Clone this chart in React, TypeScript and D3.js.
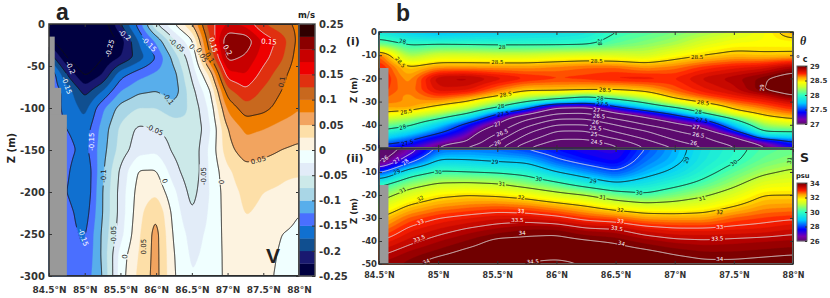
import React, { useEffect, useRef } from 'react';
import * as d3 from 'd3';

// shared longitude columns of all three sections
const lons = [84.5, 84.75, 85, 85.25, 85.5, 85.75, 86, 86.25, 86.5, 86.75, 87, 87.25, 87.5, 87.75, 88];
const lonTicks = [84.5, 85, 85.5, 86, 86.5, 87, 87.5, 88];

// a: velocity, m/s
const vDepths = [0, -20, -40, -60, -80, -100, -125, -150, -175, -200, -225, -250, -275, -300];
const vRows = [
  [-.29, -.3, -.29, -.27, -.2, -.14, -.05, 0, .05, .14, .175, .165, .125, .105, .095],
  [-.24, -.29, -.3, -.29, -.24, -.175, -.12, -.055, -.005, .12, .225, .22, .17, .14, .09],
  [-.18, -.25, -.29, -.25, -.225, -.19, -.15, -.09, -.03, .095, .21, .195, .16, .13, .085],
  [-.12, -.2, -.255, -.225, -.16, -.135, -.12, -.11, -.045, .03, .165, .175, .14, .11, .08],
  [-.13, -.16, -.21, -.175, -.125, -.105, -.1, -.115, -.06, -.005, .115, .145, .12, .1, .08],
  [-.14, -.155, -.185, -.13, -.09, -.075, -.075, -.09, -.07, -.02, .08, .115, .108, .09, .076],
  [-.14, -.15, -.165, -.115, -.07, -.045, -.05, -.06, -.075, -.03, .05, .08, .075, .065, .06],
  [-.13, -.14, -.16, -.11, -.065, -.035, -.03, -.055, -.07, -.02, .04, .065, .06, .05, .045],
  [-.13, -.145, -.175, -.105, -.045, .002, .002, -.04, -.07, -.022, .02, .04, .035, .03, .03],
  [-.13, -.15, -.175, -.1, -.04, .01, .02, -.02, -.06, -.025, .015, .03, .025, .022, .012],
  [-.13, -.14, -.165, -.1, -.04, .015, .05, -.01, -.05, -.022, .012, .026, .022, .012, 0],
  [-.13, -.14, -.155, -.095, -.035, .02, .06, -.005, -.035, -.02, .01, .02, .018, 0, -.005],
  [-.12, -.135, -.15, -.095, -.015, .025, .06, 0, -.03, -.018, .008, .018, .012, -.004, -.008],
  [-.11, -.125, -.14, -.1, -.012, .03, .06, .002, -.025, -.012, .005, .015, .008, -.006, -.01],
];
const vBandColors = [
  '#000040', '#191970', '#104f90', '#1070d0', '#4a6fff', '#58aeeb', '#a9d6e6', '#cce9e9', '#e2ecf8', '#f0ffff',
  '#fdf3e0', '#fddfa8', '#f2a45f', '#ef7d00', '#c8681e', '#e03010', '#ee0000', '#c80000', '#8b0000', '#300000',
];
const vBlack = [-.25, -.2, -.15, -.1, -.05, 0, .05, .1];
const vWhite = [.15, .2];
const vTicks = [.25, .2, .15, .1, .05, 0, -.05, -.1, -.15, -.2, -.25];
const vDepthTicks = [0, -50, -100, -150, -200, -250, -300];
// land steps: lon edge, top depth
const vLandLon = [84.58, 84.67, 84.75];
const vLandTop = [-15, -76, -108];
// text, lon, depth, angle, colour
const vLabels: [string, number, number, number, string][] = [
  ['-0.25', 85.35, -29, -75, '#fff'], ['-0.2', 85.56, -13, 40, '#fff'], ['-0.15', 85.9, -24, 45, '#fff'],
  ['-0.05', 86.29, -25, 40, '#222'], ['0', 86.5, -27, 50, '#222'], ['0.05', 86.64, -37, 60, '#222'],
  ['0.1', 86.75, -40, 60, '#222'], ['0.15', 86.8, -25, 75, '#fff'], ['0.2', 87.0, -31, 60, '#fff'],
  ['0.15', 87.58, -21, 5, '#fff'], ['0.1', 87.76, -69, -80, '#222'], ['-0.2', 84.8, -52, 65, '#fff'],
  ['-0.15', 84.75, -73, 70, '#fff'], ['-0.1', 86.17, -89, 55, '#222'], ['-0.05', 85.98, -126, 25, '#222'],
  ['-0.15', 85.1, -140, -90, '#fff'], ['-0.15', 84.98, -254, 70, '#fff'], ['-0.1', 85.27, -181, -90, '#222'],
  ['-0.05', 85.4, -251, -90, '#222'], ['0', 85.56, -277, -85, '#222'], ['0.05', 85.82, -265, -90, '#222'],
  ['0', 86.12, -187, 70, '#222'], ['-0.05', 86.66, -181, -90, '#222'], ['0', 86.91, -188, -90, '#222'],
  ['0.05', 87.43, -162, -15, '#222'],
];

// b(i): potential temperature, deg C
const tDepths = [0, -5, -10, -15, -20, -25, -27.5, -30, -32.5, -35, -37.5, -40, -42.5, -45, -47.5, -50];
const tRows = [
  [27.85, 27.75, 27.68, 27.72, 27.75, 27.78, 27.8, 27.85, 28.0, 28.05, 28.12, 28.2, 28.3, 28.4, 28.6],
  [28.1, 27.97, 27.98, 27.97, 27.96, 27.96, 27.96, 27.97, 28.08, 28.15, 28.22, 28.35, 28.42, 28.43, 28.42],
  [28.7, 28.18, 28.32, 28.32, 28.3, 28.3, 28.33, 28.35, 28.33, 28.3, 28.42, 28.5, 28.55, 28.53, 28.54],
  [28.78, 28.5, 28.6, 28.6, 28.6, 28.6, 28.63, 28.66, 28.66, 28.6, 28.64, 28.72, 28.77, 28.8, 28.9],
  [28.8, 28.58, 28.88, 28.9, 28.82, 28.76, 28.72, 28.73, 28.77, 28.78, 28.75, 28.85, 28.9, 28.98, 29.1],
  [28.75, 28.62, 28.82, 28.8, 28.65, 28.53, 28.54, 28.52, 28.5, 28.55, 28.68, 28.78, 28.85, 29.0, 29.1],
  [28.7, 28.6, 28.72, 28.65, 28.52, 28.3, 28.2, 28.05, 28.2, 28.35, 28.58, 28.7, 28.78, 28.85, 29.0],
  [28.65, 28.62, 28.6, 28.5, 28.25, 28.0, 27.8, 27.7, 27.85, 28.07, 28.38, 28.55, 28.68, 28.75, 28.85],
  [28.58, 28.6, 28.45, 28.3, 28.0, 27.65, 27.05, 27.0, 27.45, 27.75, 28.0, 28.3, 28.55, 28.65, 28.75],
  [28.5, 28.42, 28.25, 28.02, 27.55, 27.15, 26.55, 26.5, 27.0, 27.3, 27.6, 28.0, 28.4, 28.55, 28.65],
  [28.3, 28.2, 28.0, 27.7, 27.25, 26.55, 26.0, 26.0, 26.5, 26.9, 27.25, 27.55, 28.0, 28.4, 28.5],
  [28.15, 28.05, 27.75, 27.42, 27.0, 26.15, 25.5, 25.5, 26.0, 26.5, 26.9, 27.2, 27.75, 28.2, 28.3],
  [28.0, 27.85, 27.6, 27.3, 26.7, 25.7, 25.0, 25.0, 25.6, 26.0, 26.5, 26.9, 27.5, 28.05, 28.05],
  [27.85, 27.65, 27.4, 27.15, 26.35, 25.35, 24.7, 24.7, 25.2, 25.7, 26.2, 26.5, 27.05, 27.75, 27.8],
  [27.6, 27.47, 27.2, 27.0, 26.0, 25.0, 24.3, 24.3, 24.7, 25.3, 25.9, 26.3, 26.7, 27.2, 27.5],
  [27.4, 27.3, 27.0, 26.4, 25.7, 24.5, 23.9, 23.9, 24.4, 25.0, 25.5, 26.0, 26.45, 26.95, 27.35],
];
const tBlack = [27.5, 28, 28.5];
const tWhite = [24.5, 25, 25.5, 26, 26.5, 27, 29];
const tBarTicks = [29, 28.5, 28, 27.5, 27];
const tLabels: [string, number, number, number, string][] = [
  ['28', 84.7, -4, 10, '#111'], ['28', 85.54, -6.5, 0, '#111'], ['28.5', 84.68, -13, 50, '#111'],
  ['28.5', 85.5, -13, 0, '#111'], ['28.5', 86.34, -12.5, 0, '#111'], ['28.5', 87.19, -10.8, 0, '#111'],
  ['28', 86.37, -4.3, 90, '#111'], ['29', 87.74, -24, -90, '#fff'], ['28.5', 84.73, -34.4, -10, '#111'],
  ['28.5', 85.57, -27, -10, '#111'], ['28.5', 86.41, -25, 3, '#111'], ['28.5', 87.24, -30.5, 8, '#111'],
  ['28', 84.7, -41, -15, '#111'], ['28', 85.53, -32, -10, '#111'], ['28', 86.37, -28.6, 5, '#111'],
  ['28', 87.2, -34.4, 5, '#111'], ['27.5', 84.74, -47.8, -15, '#111'], ['27.5', 85.55, -35.3, -10, '#111'],
  ['27.5', 86.39, -31, 3, '#111'], ['27.5', 87.23, -38, 8, '#111'], ['27', 85.5, -39.7, -20, '#fff'],
  ['27', 86.34, -33.6, 5, '#fff'], ['27', 87.18, -41, 8, '#fff'], ['26.5', 85.54, -43.5, -20, '#fff'],
  ['26.5', 86.36, -36.2, 5, '#fff'], ['26.5', 87.2, -44.4, 10, '#fff'], ['26', 85.5, -47.8, -20, '#fff'],
  ['26', 86.33, -38.8, 5, '#fff'], ['26', 87.16, -47.8, 10, '#fff'], ['25.5', 86.33, -41.4, 5, '#fff'],
  ['25', 86.32, -44, 5, '#fff'], ['24.5', 86.34, -47.4, 5, '#fff'],
];

// b(ii): salinity, psu
const sDepths = [0, -5, -10, -15, -20, -25, -30, -35, -40, -45, -50];
const sRows = [
  [25.0, 26.4, 28.2, 28.3, 28.2, 27.9, 27.6, 27.3, 27.2, 28.0, 28.7, 29.4, 29.8, 30.2, 30.4],
  [25.6, 27.6, 29.1, 29.05, 28.9, 28.8, 28.1, 27.7, 27.4, 28.3, 28.8, 29.5, 29.9, 30.4, 30.65],
  [27.8, 29.5, 30.1, 30.0, 29.9, 29.7, 29.0, 28.5, 28.05, 28.7, 29.15, 29.75, 30.3, 30.85, 31.15],
  [29.7, 30.6, 31.05, 31.1, 31.0, 30.6, 30.15, 29.55, 29.05, 29.35, 29.75, 30.2, 30.8, 31.45, 31.55],
  [30.6, 31.4, 31.85, 32.0, 31.9, 31.7, 31.3, 31.0, 30.45, 30.1, 30.5, 30.9, 31.4, 32.0, 32.0],
  [31.3, 32.1, 32.45, 32.6, 32.7, 32.6, 32.35, 32.05, 31.65, 31.4, 31.4, 31.6, 32.0, 32.4, 32.45],
  [32.0, 32.7, 33.0, 33.15, 33.3, 33.3, 33.15, 32.85, 32.7, 32.4, 32.35, 32.35, 32.7, 32.85, 32.95],
  [32.5, 33.1, 33.35, 33.55, 33.7, 33.85, 33.85, 33.6, 33.55, 33.25, 33.1, 33.1, 33.15, 33.2, 33.35],
  [33.0, 33.4, 33.65, 33.85, 34.1, 34.1, 34.15, 34.05, 33.95, 33.75, 33.6, 33.55, 33.6, 33.65, 33.7],
  [33.4, 33.7, 33.9, 34.1, 34.2, 34.3, 34.35, 34.25, 34.2, 34.1, 33.95, 33.85, 33.85, 33.9, 33.95],
  [33.7, 33.9, 34.2, 34.3, 34.35, 34.55, 34.6, 34.5, 34.4, 34.3, 34.2, 34.1, 34.1, 34.15, 34.2],
];
const sBlack = [29, 30, 31, 32];
const sWhite = [26, 27, 28, 33, 33.5, 34, 34.5];
const sBarTicks = [34, 32, 30, 28, 26];
const sLabels: [string, number, number, number, string][] = [
  ['26', 84.55, -4.3, -40, '#fff'], ['27', 84.65, -5, -40, '#fff'], ['28', 84.72, -5.6, -45, '#fff'],
  ['29', 84.65, -10, -20, '#111'], ['29', 85.48, -5.6, 3, '#111'], ['29', 86.31, -14, 10, '#111'],
  ['29', 87.1, -4.8, -70, '#111'], ['30', 85.0, -10, 0, '#111'], ['30', 85.85, -13, 10, '#111'],
  ['30', 86.7, -19, 5, '#111'], ['30', 87.5, -6, -35, '#111'], ['31', 84.7, -18, -30, '#111'],
  ['31', 85.54, -15.2, 5, '#111'], ['31', 86.39, -21, 8, '#111'], ['31', 87.23, -21.5, -15, '#111'],
  ['31', 87.97, -5, -80, '#111'], ['32', 84.85, -21.5, -30, '#111'], ['32', 85.7, -21, 8, '#111'],
  ['32', 86.54, -26.5, 8, '#111'], ['32', 87.38, -27.5, -3, '#111'], ['33', 84.85, -31.7, -25, '#fff'],
  ['33', 85.7, -27, 3, '#fff'], ['33', 86.54, -31.3, 8, '#fff'], ['33', 87.38, -34, 0, '#fff'],
  ['33.5', 84.84, -39, -20, '#fff'], ['33.5', 85.67, -31, 0, '#fff'], ['33.5', 86.51, -34.5, 10, '#fff'],
  ['33.5', 87.36, -39, -3, '#fff'], ['34', 84.9, -49, -25, '#fff'], ['34', 85.71, -36.5, -3, '#fff'],
  ['34', 86.55, -41, 15, '#fff'], ['34', 87.38, -48, 0, '#fff'], ['34.5', 85.8, -49, -3, '#fff'],
];

const bDepthTicks = [0, -10, -20, -30, -40, -50];
const rampStops = [0, .08, .2, .36, .5, .64, .72, .8, .87, .95, 1];
const rampColors = ['#5c0a6e', '#7a00b0', '#0000ff', '#00ccff', '#30ffc0', '#c8ff30', '#ffff00', '#ffa000', '#ff2000', '#b00000', '#700000'];

const ink = '#333';
const sans = '"DejaVu Sans", sans-serif';
const bold = '"Liberation Sans", Arial, sans-serif';

// columns x rows -> one value per pixel, smoothed
const resample = (rows, depths, width, height, x, y, blurX, blurY) => {
  const colIdx = d3.scaleLinear().domain(lons).range(d3.range(lons.length)).clamp(true);
  const rowIdx = d3.scaleLinear().domain(depths).range(d3.range(depths.length)).clamp(true);
  const data = new Float64Array(width * height);
  for (let j = 0; j < height; j++) {
    const rf = rowIdx(y.invert(j + .5));
    const r0 = Math.min(Math.floor(rf), depths.length - 2);
    for (let i = 0; i < width; i++) {
      const cf = colIdx(x.invert(i + .5));
      const c0 = Math.min(Math.floor(cf), lons.length - 2);
      const top = d3.interpolateNumber(rows[r0][c0], rows[r0][c0 + 1])(cf - c0);
      const bot = d3.interpolateNumber(rows[r0 + 1][c0], rows[r0 + 1][c0 + 1])(cf - c0);
      data[j * width + i] = top + (bot - top) * (rf - r0);
    }
  }
  d3.blur2({ data, width, height }, blurX, blurY);
  return Array.from(data);
};

const drawSection = (svg, id, cfg) => {
  const { left, top, width, height, lonRange, depthRange, rows, depths, thresholds, fills, base, black, white, labels, labelSize, blur } = cfg;
  const x = d3.scaleLinear().domain(lonRange).range([0, width]);
  const y = d3.scaleLinear().domain(depthRange).range([0, height]);
  const values = resample(rows, depths, width, height, x, y, blur[0], blur[1]);
  const contours = d3.contours().size([width, height]);
  const path = d3.geoPath();

  const g = svg.append('g').attr('transform', `translate(${left},${top})`);
  g.append('rect').attr('width', width).attr('height', height).attr('fill', base);
  g.append('g').selectAll('path')
    .data(contours.thresholds(thresholds)(values))
    .enter().append('path')
    .attr('d', path)
    .attr('fill', (d, i) => fills[i])
    .attr('stroke', (d, i) => fills[i])
    .attr('stroke-width', .4);

  // gaps in the lines under the labels
  const mask = svg.append('defs').append('mask').attr('id', id)
    .attr('maskUnits', 'userSpaceOnUse')
    .attr('x', 0).attr('y', 0).attr('width', width).attr('height', height);
  mask.append('rect').attr('width', width).attr('height', height).attr('fill', '#fff');
  mask.selectAll('rect.gap').data(labels).enter().append('rect')
    .attr('class', 'gap')
    .attr('x', d => -d[0].length * labelSize * .32 - .5)
    .attr('y', -labelSize * .55)
    .attr('width', d => d[0].length * labelSize * .64 + 1)
    .attr('height', labelSize * 1.1)
    .attr('fill', '#000')
    .attr('transform', d => `translate(${x(d[1])},${y(d[2])}) rotate(${d[3]})`);

  const lines = g.append('g').attr('mask', `url(#${id})`).attr('fill', 'none');
  lines.selectAll('path.black').data(contours.thresholds(black)(values))
    .enter().append('path').attr('class', 'black')
    .attr('d', path).attr('stroke', '#111').attr('stroke-width', .9);
  lines.selectAll('path.white').data(contours.thresholds(white)(values))
    .enter().append('path').attr('class', 'white')
    .attr('d', path).attr('stroke', '#e4e4e4').attr('stroke-width', .9);

  g.append('g').selectAll('text').data(labels).enter().append('text')
    .text(d => d[0])
    .attr('transform', d => `translate(${x(d[1])},${y(d[2])}) rotate(${d[3]})`)
    .attr('text-anchor', 'middle')
    .attr('dy', '.35em')
    .attr('font-family', sans)
    .attr('font-size', labelSize)
    .attr('fill', d => d[4]);
  return { g, x, y };
};

const styleAxis = (sel, size) => {
  sel.attr('font-family', sans).attr('font-size', size).attr('font-weight', 'bold').attr('fill', ink);
  sel.selectAll('.domain').remove();
  sel.selectAll('line').attr('stroke', ink);
  sel.selectAll('text').attr('fill', ink);
};

const frame = (g, width, height) =>
  g.append('rect').attr('width', width).attr('height', height)
    .attr('fill', 'none').attr('stroke', ink).attr('stroke-width', 1.5);

const drawTicks = (g, x, y, xTicks, yTicks, width, height, opts) => {
  const bottom = d3.axisBottom(x).tickValues(xTicks).tickSizeInner(-3).tickSizeOuter(0);
  if (opts.padX) bottom.tickPadding(opts.padX).tickFormat(d => `${d}°N`);
  else bottom.tickFormat('');
  g.append('g').attr('transform', `translate(0,${height})`).call(bottom).call(styleAxis, opts.sizeX);
  g.append('g').call(d3.axisTop(x).tickValues(xTicks).tickSizeInner(-3).tickSizeOuter(0).tickFormat('')).call(styleAxis, opts.sizeX);
  g.append('g')
    .call(d3.axisLeft(y).tickValues(yTicks).tickSizeInner(-3).tickSizeOuter(0).tickPadding(opts.padY)
      .tickFormat(d => (opts.hideZero && d === 0 ? '' : String(d))))
    .call(styleAxis, opts.sizeY);
  g.append('g').attr('transform', `translate(${width},0)`)
    .call(d3.axisRight(y).tickValues(yTicks).tickSizeInner(-3).tickSizeOuter(0).tickFormat(''))
    .call(styleAxis, opts.sizeY);
};

const ramp = (lo, hi) => d3.scaleLinear().domain(rampStops.map(t => lo + t * (hi - lo))).range(rampColors).clamp(true);

const rampBar = (svg, left, top, width, height, lo, hi, ticks, size) => {
  const y = d3.scaleLinear().domain([hi, lo]).range([0, height]);
  const color = ramp(lo, hi);
  const g = svg.append('g').attr('transform', `translate(${left},${top})`);
  g.selectAll('rect').data(d3.range(0, height)).enter().append('rect')
    .attr('y', d => d).attr('width', width).attr('height', 1.2)
    .attr('fill', d => color(y.invert(d + .5)));
  g.append('rect').attr('width', width).attr('height', height).attr('fill', 'none').attr('stroke', '#666').attr('stroke-width', 1);
  g.append('g').attr('transform', `translate(${width},0)`)
    .call(d3.axisRight(y).tickValues(ticks).tickSizeInner(-2).tickSizeOuter(0).tickPadding(3).tickFormat(d => String(d)))
    .call(styleAxis, size);
};

const caption = (svg, text, px, py, size, family, extra = {}) => {
  const t = svg.append('text').text(text).attr('x', px).attr('y', py)
    .attr('font-family', family).attr('font-size', size).attr('font-weight', 'bold').attr('fill', '#222');
  Object.entries(extra).forEach(([k, v]) => t.attr(k, v));
  return t;
};

const renderChart = (node) => {
  const svg = d3.select(node);
  svg.selectAll('*').remove();

  // panel a
  const vThresholds = d3.range(1, 20).map(i => -.25 + i * .025);
  const a = drawSection(svg, 'gapsA', {
    left: 49, top: 24, width: 250, height: 252,
    lonRange: [84.5, 88], depthRange: [0, -300],
    rows: vRows, depths: vDepths,
    thresholds: vThresholds, fills: vBandColors.slice(1), base: vBandColors[0],
    black: vBlack, white: vWhite, labels: vLabels, labelSize: 7, blur: [2, 2],
  });
  vLandLon.forEach((lon, i) => {
    a.g.append('rect')
      .attr('x', 0).attr('y', a.y(vLandTop[i]))
      .attr('width', a.x(lon)).attr('height', 252 - a.y(vLandTop[i]))
      .attr('fill', '#999');
  });
  drawTicks(a.g, a.x, a.y, lonTicks, vDepthTicks, 250, 252, { padX: 11, padY: 4, sizeX: 9, sizeY: 10 });
  frame(a.g, 250, 252);
  caption(svg, 'V', 273, 263, 21, bold, { 'text-anchor': 'middle' });

  // velocity colourbar
  const barY = d3.scaleLinear().domain([.25, -.25]).range([0, 252]);
  const vBar = svg.append('g').attr('transform', 'translate(299,24)');
  vBar.selectAll('rect').data(vBandColors).enter().append('rect')
    .attr('y', (d, i) => barY(-.225 + i * .025))
    .attr('width', 16).attr('height', barY(0) - barY(.025) + .3)
    .attr('fill', d => d);
  vBar.append('rect').attr('width', 16).attr('height', 252).attr('fill', 'none').attr('stroke', '#555').attr('stroke-width', 1.5);
  vBar.append('g').attr('transform', 'translate(16,0)')
    .call(d3.axisRight(barY).tickValues(vTicks).tickSizeInner(-3).tickSizeOuter(0).tickPadding(4).tickFormat(d => String(d)))
    .call(styleAxis, 10);
  caption(svg, 'm/s', 298, 18, 8.5, sans);

  // panel b sections
  const tLevels = d3.range(1, 49).map(i => 27 + i * 2 / 48);
  const tColor = ramp(27, 29);
  const t = drawSection(svg, 'gapsT', {
    left: 379, top: 32, width: 414, height: 116,
    lonRange: [84.5, 88], depthRange: [0, -50],
    rows: tRows, depths: tDepths,
    thresholds: tLevels, fills: tLevels.map(v => tColor(v + 1 / 48)), base: tColor(27),
    black: tBlack, white: tWhite, labels: tLabels, labelSize: 5.5, blur: [5, 1.2],
  });
  t.g.append('rect').attr('x', 0).attr('y', 36).attr('width', t.x(84.58)).attr('height', 80).attr('fill', '#999');
  drawTicks(t.g, t.x, t.y, lonTicks, bDepthTicks, 414, 116, { padY: 2, sizeX: 8, sizeY: 8.5 });
  frame(t.g, 414, 116);

  const sLevels = d3.range(1, 49).map(i => 26 + i * 8 / 48);
  const sColor = ramp(26, 34);
  const s = drawSection(svg, 'gapsS', {
    left: 379, top: 149, width: 414, height: 115,
    lonRange: [84.5, 88], depthRange: [0, -50],
    rows: sRows, depths: sDepths,
    thresholds: sLevels, fills: sLevels.map(v => sColor(v + 4 / 48)), base: sColor(26),
    black: sBlack, white: sWhite, labels: sLabels, labelSize: 5.5, blur: [5, 2],
  });
  s.g.append('rect').attr('x', 0).attr('y', 36).attr('width', s.x(84.58)).attr('height', 79).attr('fill', '#999');
  drawTicks(s.g, s.x, s.y, lonTicks, bDepthTicks, 414, 115, { padX: 8, padY: 2, sizeX: 8, sizeY: 8.5, hideZero: true });
  frame(s.g, 414, 115);

  rampBar(svg, 797, 66, 10, 58, 27, 29, tBarTicks, 7);
  rampBar(svg, 797, 183, 10, 58, 26, 34, sBarTicks, 7);

  // captions
  caption(svg, 'a', 56, 20, 23, bold);
  caption(svg, 'b', 396, 21, 23, bold);
  caption(svg, '(i)', 346, 45, 11, sans);
  caption(svg, '(ii)', 346, 162, 11, sans);
  [[15, 148, 10], [357, 90, 8.5], [357, 211, 8.5]].forEach(([px, py, size]) => {
    caption(svg, 'Z (m)', px, py, size, sans, { 'text-anchor': 'middle', transform: `rotate(-90,${px},${py})` });
  });
  caption(svg, 'θ', 800, 45, 12, '"Liberation Serif", serif', { 'font-style': 'italic' });
  caption(svg, '° c', 796, 62, 8, sans);
  caption(svg, 'S', 800, 162, 12.5, sans);
  caption(svg, 'psu', 796, 178, 6.7, sans);
};

export default function App() {
  const ref = useRef(null);
  useEffect(() => {
    renderChart(ref.current);
  }, []);
  return <svg ref={ref} width={830} height={298} style={{ position: 'absolute', left: 0, top: 0, background: '#fff' }} />;
}
